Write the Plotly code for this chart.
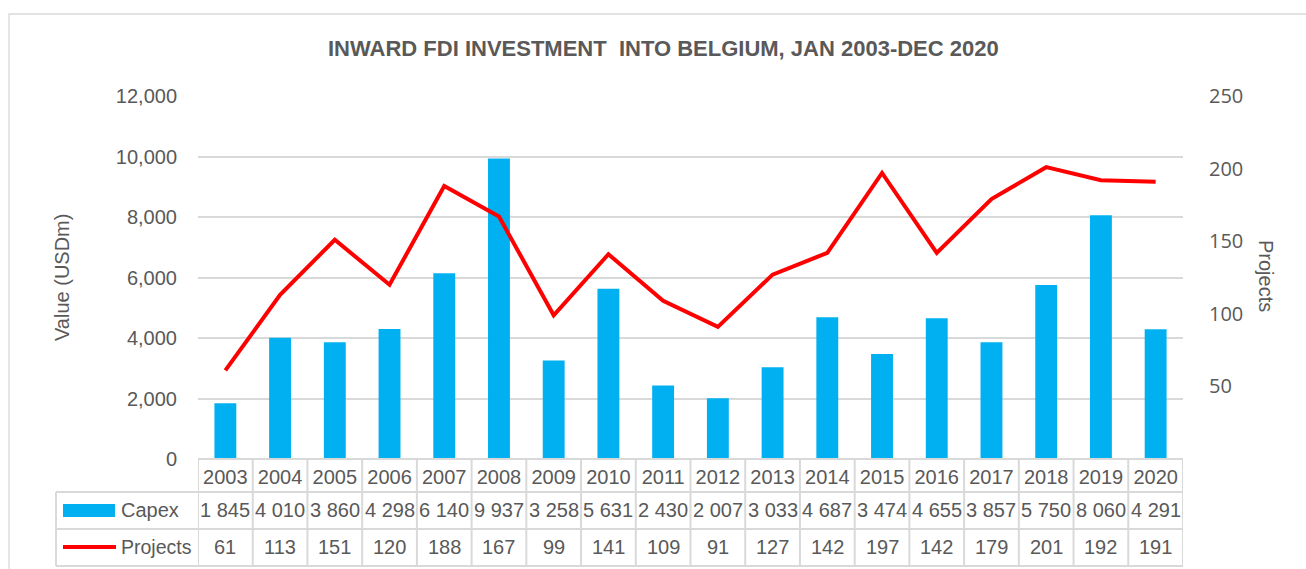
import plotly.graph_objects as go

years = ["2003", "2004", "2005", "2006", "2007", "2008", "2009", "2010", "2011",
         "2012", "2013", "2014", "2015", "2016", "2017", "2018", "2019", "2020"]
capex = [1845, 4010, 3860, 4298, 6140, 9937, 3258, 5631, 2430,
         2007, 3033, 4687, 3474, 4655, 3857, 5750, 8060, 4291]
projects = [61, 113, 151, 120, 188, 167, 99, 141, 109,
            91, 127, 142, 197, 142, 179, 201, 192, 191]
capex_labels = ["1 845", "4 010", "3 860", "4 298", "6 140", "9 937", "3 258", "5 631", "2 430",
                "2 007", "3 033", "4 687", "3 474", "4 655", "3 857", "5 750", "8 060", "4 291"]
left_ticks = [0, 2000, 4000, 6000, 8000, 10000, 12000]
right_ticks = [50, 100, 150, 200, 250]

W, H = 1306, 569
FONT = "Liberation Sans, Arial, sans-serif"
GREY = "#595959"
LINE = "#D9D9D9"
BLUE = "#00B0F0"
RED = "#FF0000"


def px(x):
    return x / W


def py(y):
    return 1 - y / H


PLOT_L, PLOT_R, PLOT_T, PLOT_B = 198, 1183, 96, 459
N = len(years)

fig = go.Figure()
fig.add_trace(go.Bar(x=years, y=capex, name="Capex", marker_color=BLUE,
                     marker_line_width=0, yaxis="y"))
fig.add_trace(go.Scatter(x=years, y=projects, name="Projects", mode="lines",
                         line=dict(color=RED, width=4), yaxis="y2"))

shapes = []
# chart border
shapes.append(dict(type="rect", xref="paper", yref="paper", x0=px(9), x1=px(1330),
                   y0=py(14), y1=py(600), line=dict(color=LINE, width=1.3)))
# table horizontal lines
for yy in [459, 492, 529, 566]:
    shapes.append(dict(type="line", xref="x", yref="paper", x0=-0.5, x1=N - 0.5,
                       y0=py(yy), y1=py(yy), line=dict(color=LINE, width=2)))
    if yy != 459:
        shapes.append(dict(type="line", xref="paper", yref="paper", x0=px(56), x1=px(PLOT_L),
                           y0=py(yy), y1=py(yy), line=dict(color=LINE, width=2)))
# table vertical lines
for k in range(N + 1):
    shapes.append(dict(type="line", xref="x", yref="paper", x0=k - 0.5, x1=k - 0.5,
                       y0=py(459), y1=py(566), line=dict(color=LINE, width=2)))
shapes.append(dict(type="line", xref="paper", yref="paper", x0=px(56), x1=px(56),
                   y0=py(492), y1=py(566), line=dict(color=LINE, width=2)))
# legend keys
shapes.append(dict(type="rect", xref="paper", yref="paper", x0=px(63), x1=px(115),
                   y0=py(517), y1=py(504), fillcolor=BLUE, line=dict(width=0)))
shapes.append(dict(type="line", xref="paper", yref="paper", x0=px(63), x1=px(116),
                   y0=py(547), y1=py(547), line=dict(color=RED, width=4)))

annotations = []
for k, (cl, pr) in enumerate(zip(capex_labels, projects)):
    annotations.append(dict(x=k, xref="x", y=py(510), yref="paper", text=cl,
                            showarrow=False, xanchor="center", yanchor="middle",
                            font=dict(family=FONT, size=20, color=GREY)))
    annotations.append(dict(x=k, xref="x", y=py(547), yref="paper", text=str(pr),
                            showarrow=False, xanchor="center", yanchor="middle",
                            font=dict(family=FONT, size=20, color=GREY)))
annotations.append(dict(x=px(119), xref="paper", y=py(510), yref="paper", text="Capex",
                        showarrow=False, xanchor="left", yanchor="middle",
                        font=dict(family=FONT, size=20, color=GREY)))
annotations.append(dict(x=px(119), xref="paper", y=py(547), yref="paper", text="Projects",
                        showarrow=False, xanchor="left", yanchor="middle",
                        font=dict(family=FONT, size=19.5, color=GREY)))
annotations.append(dict(x=px(663), xref="paper", y=py(48), yref="paper",
                        text="<b>INWARD FDI INVESTMENT  INTO BELGIUM, JAN 2003-DEC 2020</b>",
                        showarrow=False, xanchor="center", yanchor="middle",
                        font=dict(family=FONT, size=22, color=GREY)))
annotations.append(dict(x=px(62), xref="paper", y=py(278), yref="paper", text="Value (USDm)",
                        showarrow=False, xanchor="center", yanchor="middle", textangle=-90,
                        font=dict(family=FONT, size=20, color=GREY)))
annotations.append(dict(x=px(1266), xref="paper", y=py(276), yref="paper", text="Projects",
                        showarrow=False, xanchor="center", yanchor="middle", textangle=90,
                        font=dict(family=FONT, size=20, color=GREY)))

fig.update_layout(
    width=W, height=H, autosize=False,
    margin=dict(l=0, r=0, t=0, b=0, pad=0, autoexpand=False),
    paper_bgcolor="white", plot_bgcolor="white",
    showlegend=False,
    bargap=0.6,
    xaxis=dict(type="category", domain=[px(PLOT_L), px(PLOT_R)], range=[-0.5, N - 0.5],
               automargin=False,
               showgrid=False, zeroline=False, showline=False, ticks="",
               tickfont=dict(family=FONT, size=20, color=GREY), ticklabelstandoff=4),
    yaxis=dict(domain=[py(PLOT_B), py(PLOT_T)], range=[0, 12000], tickvals=left_ticks,
               automargin=False,
               tickformat=",", showgrid=True, gridcolor=LINE, gridwidth=1.5,
               zeroline=False, showline=False, ticks="",
               tickfont=dict(family=FONT, size=20, color=GREY), ticklabelstandoff=20),
    yaxis2=dict(overlaying="y", side="right", range=[0, 250], tickvals=right_ticks,
                automargin=False,
                showgrid=False, zeroline=False, showline=False, ticks="",
                tickfont=dict(family="Open Sans, sans-serif", size=20, color=GREY),
                ticklabelstandoff=25),
    shapes=shapes,
    annotations=annotations,
)

fig.write_html("out.html", config={"displayModeBar": False}, post_script=(
    "document.documentElement.style.margin='0';document.documentElement.style.padding='0';"
    "document.documentElement.style.overflow='hidden';"
    "document.body.style.margin='0';document.body.style.padding='0';"
    "document.body.style.overflow='hidden';"
    "var d=document.getElementById('{plot_id}');"
    "d.style.position='fixed';d.style.top='0px';d.style.left='0px';"))
